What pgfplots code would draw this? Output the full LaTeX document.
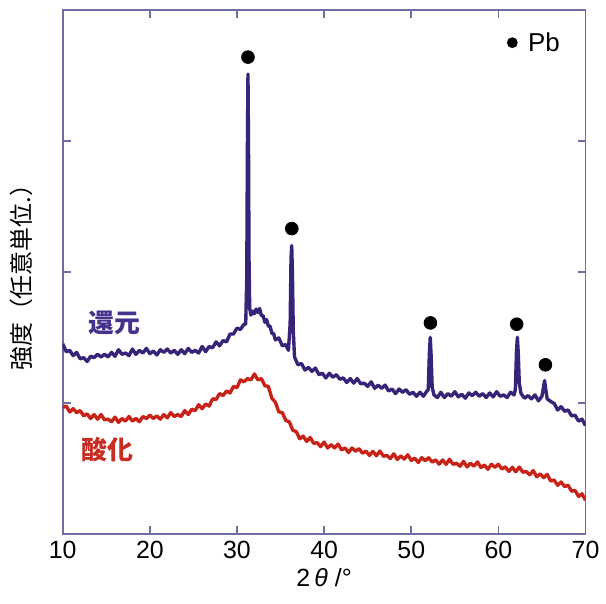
\documentclass[border=0pt]{standalone}
\usepackage{fontspec}
\setmainfont{Liberation Sans}
\newfontfamily\jp{Noto Sans CJK JP}
\usepackage{pgfplots}
\pgfplotsset{compat=1.18}
\definecolor{axc}{RGB}{110,110,165}
\definecolor{redc}{RGB}{200,35,25}
\definecolor{bluec}{RGB}{55,35,120}
\definecolor{bluetxt}{RGB}{70,50,140}
\definecolor{redtxt}{RGB}{200,45,35}

% reduced sample (kangen)
\pgfplotstableread{
x y
10.0 1.45
10.4 1.39
10.8 1.40
11.2 1.36
11.6 1.385
12.0 1.335
12.4 1.345
12.8 1.315
13.2 1.355
13.6 1.345
14.0 1.37
14.4 1.35
14.8 1.37
15.2 1.35
15.6 1.385
16.0 1.355
16.4 1.405
16.8 1.37
17.2 1.38
17.6 1.36
18.0 1.41
18.4 1.37
18.8 1.40
19.2 1.38
19.6 1.415
20.0 1.375
20.4 1.395
20.8 1.365
21.2 1.405
21.6 1.385
22.0 1.41
22.4 1.38
22.8 1.40
23.2 1.37
23.6 1.405
24.0 1.375
24.4 1.415
24.8 1.385
25.2 1.40
25.6 1.38
26.0 1.43
26.4 1.39
26.8 1.43
27.2 1.42
27.6 1.465
28.0 1.435
28.4 1.475
28.8 1.465
29.2 1.525
29.6 1.525
30.0 1.57
30.4 1.56
30.8 1.60
31.0 1.60
31.12 1.95
31.2 3.00
31.26 3.51
31.32 3.00
31.38 2.10
31.46 1.72
31.6 1.67
31.8 1.70
32.0 1.68
32.2 1.715
32.4 1.69
32.6 1.72
32.8 1.665
33.0 1.665
33.2 1.615
33.4 1.635
33.6 1.585
33.8 1.585
34.0 1.53
34.2 1.53
34.4 1.48
34.8 1.495
35.2 1.435
35.6 1.445
35.9 1.40
36.1 1.60
36.2 2.10
36.28 2.20
36.36 2.00
36.46 1.55
36.6 1.35
37.0 1.29
37.4 1.30
37.8 1.25
38.2 1.27
38.6 1.24
39.0 1.265
39.4 1.215
39.8 1.225
40.2 1.19
40.6 1.225
41.0 1.195
41.4 1.215
41.8 1.18
42.2 1.19
42.6 1.155
43.0 1.185
43.4 1.15
43.8 1.185
44.2 1.145
44.6 1.15
45.0 1.125
45.4 1.16
45.8 1.11
46.2 1.135
46.6 1.11
47.0 1.135
47.4 1.09
47.8 1.105
48.2 1.07
48.6 1.105
49.0 1.08
49.4 1.10
49.8 1.065
50.2 1.08
50.6 1.05
51.0 1.08
51.4 1.05
51.8 1.09
51.95 1.10
52.08 1.38
52.18 1.50
52.28 1.36
52.4 1.12
52.6 1.06
53.0 1.04
53.4 1.08
53.8 1.04
54.2 1.07
54.6 1.05
55.0 1.085
55.4 1.045
55.8 1.065
56.2 1.035
56.6 1.075
57.0 1.055
57.4 1.08
57.8 1.05
58.2 1.07
58.6 1.04
59.0 1.075
59.4 1.045
59.8 1.085
60.2 1.05
60.6 1.06
61.0 1.04
61.4 1.08
61.8 1.06
61.95 1.10
62.08 1.40
62.18 1.50
62.28 1.38
62.4 1.15
62.6 1.07
63.0 1.035
63.4 1.055
63.8 1.03
64.2 1.06
64.6 1.015
65.0 1.05
65.18 1.12
65.3 1.17
65.42 1.11
65.6 1.03
66.0 1.01
66.4 0.995
66.8 0.945
67.2 0.97
67.6 0.935
68.0 0.945
68.4 0.90
68.8 0.905
69.2 0.86
69.6 0.875
70.0 0.825
}\reduced

% oxidised sample (sanka)
\pgfplotstableread{
x y
10.0 0.965
10.4 0.975
10.8 0.93
11.2 0.955
11.6 0.925
12.0 0.94
12.4 0.90
12.8 0.915
13.2 0.88
13.6 0.91
14.0 0.875
14.4 0.91
14.8 0.87
15.2 0.875
15.6 0.855
16.0 0.89
16.4 0.85
16.8 0.88
17.2 0.86
17.6 0.895
18.0 0.86
18.4 0.88
18.8 0.855
19.2 0.895
19.6 0.88
20.0 0.905
20.4 0.88
20.8 0.90
21.2 0.875
21.6 0.91
22.0 0.885
22.4 0.925
22.8 0.895
23.2 0.91
23.6 0.895
24.0 0.94
24.4 0.91
24.8 0.95
25.2 0.94
25.6 0.985
26.0 0.955
26.4 0.99
26.8 0.975
27.2 1.03
27.6 1.025
28.0 1.07
28.4 1.055
28.8 1.09
29.2 1.075
29.6 1.125
30.0 1.115
30.4 1.175
30.8 1.16
31.2 1.185
31.6 1.175
32.0 1.22
32.4 1.175
32.8 1.185
33.2 1.13
33.6 1.125
34.0 1.035
34.4 1.005
34.8 0.93
35.2 0.925
35.6 0.865
36.0 0.855
36.4 0.79
36.8 0.78
37.2 0.725
37.6 0.745
38.0 0.705
38.4 0.735
38.8 0.69
39.2 0.695
39.6 0.665
40.0 0.70
40.4 0.655
40.8 0.68
41.2 0.655
41.6 0.685
42.0 0.64
42.4 0.655
42.8 0.62
43.2 0.655
43.6 0.63
44.0 0.65
44.4 0.615
44.8 0.63
45.2 0.598
45.6 0.629
46.0 0.595
46.4 0.631
46.8 0.592
47.2 0.598
47.6 0.574
48.0 0.61
48.4 0.567
48.8 0.594
49.2 0.57
49.6 0.603
50.0 0.56
50.4 0.577
50.8 0.544
51.2 0.581
51.6 0.558
52.0 0.58
52.4 0.547
52.8 0.564
53.2 0.531
53.6 0.563
54.0 0.53
54.4 0.568
54.8 0.53
55.2 0.538
55.6 0.515
56.0 0.553
56.4 0.51
56.8 0.538
57.2 0.516
57.6 0.548
58.0 0.506
58.4 0.524
58.8 0.492
59.2 0.53
59.6 0.508
60.0 0.53
60.4 0.495
60.8 0.51
61.2 0.476
61.6 0.507
62.0 0.473
62.4 0.509
62.8 0.47
63.2 0.475
63.6 0.45
64.0 0.482
64.4 0.435
64.8 0.457
65.2 0.428
65.6 0.453
66.0 0.403
66.4 0.41
66.8 0.37
67.2 0.395
67.6 0.36
68.0 0.37
68.4 0.325
68.8 0.33
69.2 0.285
69.6 0.305
70.0 0.255
}\oxidised

\begin{document}
\begin{tikzpicture}
\begin{axis}[
  scale only axis,
  width=262.5pt, height=263pt,
  xmin=10, xmax=70, ymin=0, ymax=4,
  xtick={10,20,...,70},
  ytick={1,2,3}, yticklabels={},
  tick align=inside, major tick length=4pt,
  axis line style={axc, line width=0.8pt},
  tick style={axc, line width=0.8pt},
  /pgf/number format/assume math mode=true,
  ticklabel style={font=\fontsize{12.5}{15}\selectfont},
  xlabel={2\,\textit{θ} /°},
  xlabel style={at={(axis description cs:0.5,0)}, anchor=center,
                yshift=-22pt, font=\fontsize{12.5}{15}\selectfont},
  ylabel={\jp 強度（任意単位.）},
  % the label is already turned by 90 degrees: yshift moves it left
  ylabel style={at={(axis description cs:0,0.5)}, anchor=center,
                yshift=20.5pt, font=\fontsize{12}{14}\selectfont},
]
  \addplot[bluec, line width=1.7pt, line join=round] table {\reduced};
  \addplot[redc, line width=1.7pt, line join=round] table {\oxidised};
  % Pb reflections
  \addplot[only marks, mark=*, mark size=3.2pt, black]
    coordinates {(31.26,3.64)(36.29,2.33)(52.2,1.61)(62.1,1.60)(65.4,1.29)};
  \addplot[only marks, mark=*, mark size=2.5pt, black]
    coordinates {(61.6,3.75)};
  \node[anchor=west, font=\fontsize{13}{15}\selectfont] at (axis cs:62.6,3.75) {Pb};
  \node[bluetxt, font={\jp\bfseries\fontsize{13}{15}\selectfont}] at (axis cs:15.94,1.61) {還元};
  \node[redtxt, font={\jp\bfseries\fontsize{13}{15}\selectfont}] at (axis cs:15.09,0.64) {酸化};
\end{axis}
\path ([xshift=-31.5pt,yshift=-35pt]current axis.south west)
  rectangle ([xshift=7pt,yshift=5pt]current axis.north east);
\end{tikzpicture}
\end{document}
